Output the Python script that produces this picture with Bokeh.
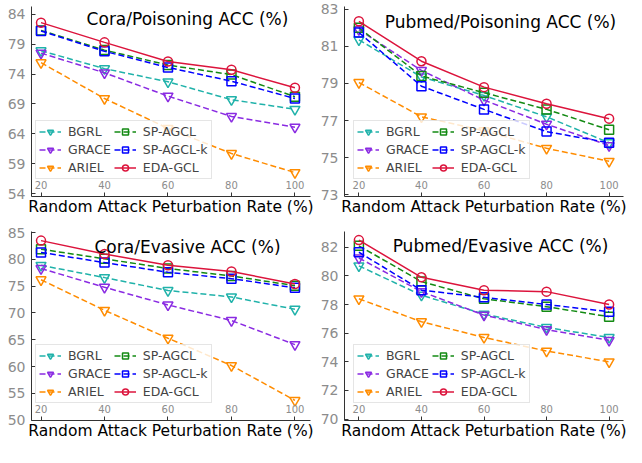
from bokeh.plotting import figure
from bokeh.layouts import gridplot
from bokeh.models import FixedTicker, Range1d, Label, Legend, LegendItem
from bokeh.embed import file_html
from bokeh.resources import INLINE

# ---------------- data ----------------
rates = [20, 40, 60, 80, 100]
methods = ["BGRL", "GRACE", "ARIEL", "SP-AGCL", "SP-AGCL-k", "EDA-GCL"]

# Cora / Poisoning
cp_bgrl = [77.9, 74.9, 72.7, 69.7, 68.1]
cp_grace = [77.5, 74.2, 70.3, 66.9, 65.1]
cp_ariel = [75.9, 69.9, 64.9, 60.7, 57.5]
cp_spagcl = [81.3, 78.0, 75.5, 73.9, 70.2]
cp_spagclk = [81.2, 77.8, 75.1, 72.8, 69.9]
cp_eda = [82.6, 79.3, 76.1, 74.7, 71.7]

# Pubmed / Poisoning
pp_bgrl = [81.35, 79.35, 78.35, 77.2, 75.8]
pp_grace = [81.9, 79.7, 78.1, 76.8, 75.65]
pp_ariel = [79.05, 77.2, 76.45, 75.5, 74.8]
pp_spagcl = [82.0, 79.4, 78.5, 77.6, 76.5]
pp_spagclk = [81.75, 78.85, 77.6, 76.4, 75.8]
pp_eda = [82.35, 80.2, 78.8, 77.9, 77.1]

# Cora / Evasive
ce_bgrl = [78.9, 76.6, 74.2, 73.0, 70.7]
ce_grace = [78.3, 74.8, 71.5, 68.6, 64.1]
ce_ariel = [76.2, 70.5, 65.3, 60.2, 53.7]
ce_spagcl = [81.9, 80.1, 78.3, 76.9, 75.1]
ce_spagclk = [81.3, 79.4, 77.6, 76.4, 74.7]
ce_eda = [83.5, 81.0, 78.9, 77.75, 75.4]

# Pubmed / Evasive
pe_bgrl = [80.7, 78.65, 77.33, 76.4, 75.7]
pe_grace = [81.25, 78.9, 77.26, 76.25, 75.5]
pe_ariel = [78.4, 76.8, 75.7, 74.75, 74.0]
pe_spagcl = [82.1, 79.6, 78.4, 77.85, 77.15]
pe_spagclk = [81.65, 79.0, 78.5, 78.0, 77.5]
pe_eda = [82.5, 79.9, 79.0, 78.9, 78.0]

cp_ticks = [54, 59, 64, 69, 74, 79, 84]
pp_ticks = [73, 75, 77, 79, 81, 83]
ce_ticks = [50, 55, 60, 65, 70, 75, 80, 85]
pe_ticks = [70, 72, 74, 76, 78, 80, 82]

# ---------------- styles ----------------
COLORS = {"BGRL": "#20B2AA", "GRACE": "#8A2BE2", "ARIEL": "#FF8C00",
          "SP-AGCL": "#138A13", "SP-AGCL-k": "#0000FF", "EDA-GCL": "#DC143C"}
MARKERS = {"BGRL": "inverted_triangle", "GRACE": "inverted_triangle", "ARIEL": "inverted_triangle",
           "SP-AGCL": "square", "SP-AGCL-k": "square", "EDA-GCL": "circle"}
SIZES = {"inverted_triangle": 10, "square": 9, "circle": 9}
FONT = "DejaVu Sans"
W, H = 313, 223


def make_panel(title, series, yr, yticks, xr, top_border, frame_h, leg_x):
    p = figure(width=W, height=H, output_backend="svg", toolbar_location=None,
               x_range=Range1d(*xr), y_range=Range1d(*yr),
               min_border_left=31, min_border_right=3, min_border_top=top_border,
               min_border_bottom=H - top_border - frame_h)
    p.outline_line_color = None
    p.grid.visible = False
    p.background_fill_color = "white"
    p.border_fill_color = "white"

    items = []
    for name in methods:
        vals = series[name]
        dash = "solid" if name == "EDA-GCL" else "6 3"
        ln = p.line(rates, vals, line_color=COLORS[name], line_width=1.5, line_dash=dash)
        mk = MARKERS[name]
        sc = p.scatter(rates, vals, marker=mk, size=SIZES[mk], line_color=COLORS[name],
                       line_width=1.5, fill_color=None)
        items.append(LegendItem(label=name, renderers=[ln, sc]))

    leg = Legend(items=items, location=(leg_x, 17), orientation="vertical", nrows=3,
                 label_text_font=FONT, label_text_font_size="12.5px",
                 glyph_width=22, glyph_height=15, label_height=15, label_standoff=7,
                 spacing=3, padding=3, margin=0,
                 border_line_color="#cccccc", border_line_width=1,
                 background_fill_color="white", background_fill_alpha=0.8)
    p.add_layout(leg, "center")

    # y axis
    ya = p.yaxis[0]
    ya.ticker = FixedTicker(ticks=yticks)
    ya.major_tick_in = 4
    ya.major_tick_out = 0
    ya.minor_tick_line_color = None
    ya.axis_line_color = "#333333"
    ya.major_tick_line_color = "#333333"
    ya.major_label_text_font = FONT
    ya.major_label_text_font_size = "14px"
    ya.major_label_text_color = "#8c8c8c"
    ya.major_label_standoff = 6

    # x axis
    xa = p.xaxis[0]
    xa.ticker = FixedTicker(ticks=rates)
    xa.major_tick_in = 4
    xa.major_tick_out = 0
    xa.minor_tick_line_color = None
    xa.axis_line_color = "#333333"
    xa.major_tick_line_color = "#333333"
    xa.major_label_text_font = FONT
    xa.major_label_text_font_size = "10px"
    xa.major_label_text_color = "#8c8c8c"
    xa.major_label_standoff = -16
    xa.axis_label = "Random Attack Peturbation Rate (%)"
    xa.axis_label_text_font = FONT
    xa.axis_label_text_font_size = "15.5px"
    xa.axis_label_text_font_style = "normal"
    xa.axis_label_text_color = "black"
    xa.axis_label_standoff = 6

    p.add_layout(Label(x=156, y=frame_h - 15.5, x_units="screen", y_units="screen",
                       text=title, text_align="center", text_baseline="alphabetic",
                       text_font=FONT, text_font_size="17px", text_color="black"))
    return p


def pack(b, g, a, s, k, e):
    return {"BGRL": b, "GRACE": g, "ARIEL": a, "SP-AGCL": s, "SP-AGCL-k": k, "EDA-GCL": e}


p1 = make_panel("Cora/Poisoning ACC (%)",
                pack(cp_bgrl, cp_grace, cp_ariel, cp_spagcl, cp_spagclk, cp_eda),
                (53.5, 85.3), cp_ticks, (17.0, 104.9), 3, 193, 4)
p2 = make_panel("Pubmed/Poisoning ACC (%)",
                pack(pp_bgrl, pp_grace, pp_ariel, pp_spagcl, pp_spagclk, pp_eda),
                (72.9, 83.15), pp_ticks, (15.4, 104.6), 6, 190, 9)
p3 = make_panel("Cora/Evasive ACC (%)",
                pack(ce_bgrl, ce_grace, ce_ariel, ce_spagcl, ce_spagclk, ce_eda),
                (49.95, 85.2), ce_ticks, (17.0, 104.9), 8, 189, 4)
p4 = make_panel("Pubmed/Evasive ACC (%)",
                pack(pe_bgrl, pe_grace, pe_ariel, pe_spagcl, pe_spagclk, pe_eda),
                (69.9, 83.1), pe_ticks, (15.4, 104.6), 7, 190, 9)

grid = gridplot([[p1, p2], [p3, p4]], toolbar_location=None)

open("out.html", "w").write(file_html(grid, INLINE))
